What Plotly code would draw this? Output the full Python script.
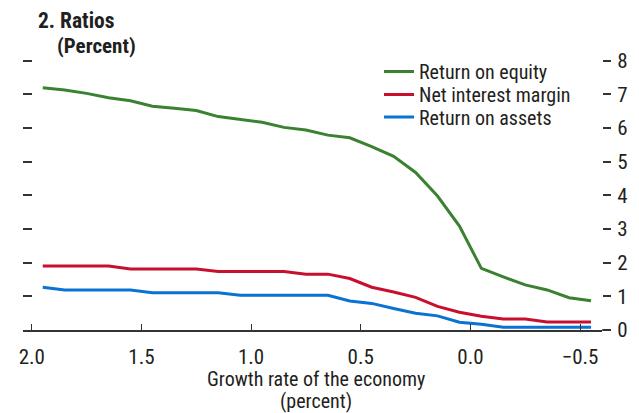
import plotly.graph_objects as go

# Data
growth = [1.95, 1.85, 1.75, 1.65, 1.55, 1.45, 1.35, 1.25, 1.15, 1.05, 0.95, 0.85, 0.75,
          0.65, 0.55, 0.45, 0.35, 0.25, 0.15, 0.05, -0.05, -0.15, -0.25, -0.35, -0.45, -0.55]
return_on_equity = [7.20, 7.13, 7.03, 6.90, 6.81, 6.65, 6.59, 6.52, 6.34, 6.26, 6.17, 6.02, 5.94,
                    5.79, 5.71, 5.45, 5.16, 4.68, 3.98, 3.09, 1.83, 1.58, 1.34, 1.19, 0.96, 0.87]
net_interest_margin = [1.90, 1.90, 1.90, 1.90, 1.81, 1.81, 1.81, 1.81, 1.74, 1.74, 1.74, 1.74, 1.66,
                       1.66, 1.53, 1.27, 1.13, 0.97, 0.70, 0.53, 0.41, 0.33, 0.33, 0.24, 0.24, 0.24]
return_on_assets = [1.27, 1.19, 1.19, 1.19, 1.19, 1.11, 1.11, 1.11, 1.11, 1.03, 1.03, 1.03, 1.03,
                    1.03, 0.86, 0.79, 0.64, 0.50, 0.42, 0.23, 0.17, 0.08, 0.08, 0.08, 0.08, 0.08]
x_ticks = [2.0, 1.5, 1.0, 0.5, 0.0, -0.5]
x_tick_labels = ["2.0", "1.5", "1.0", "0.5", "0.0", "\u22120.5"]
y_ticks = [0, 1, 2, 3, 4, 5, 6, 7, 8]

FONT = "Liberation Sans Narrow, Arial Narrow, Roboto Condensed, Liberation Sans, sans-serif"
TXT = "#231f20"
OFF = 8  # page body margin around the figure
W, H = 639 - OFF, 413 - OFF
PL, PR, PT, PB = 23, 602, 54, 330  # plot box in page pixels
L, R, T, B = PL - OFF, W - (PR - OFF), PT - OFF, H - (PB - OFF)
pw, ph = PR - PL, PB - PT

def px_x(p):
    return (p - PL) / pw

def px_y(p):
    return (PB - p) / ph

series = [
    ("Return on equity", return_on_equity, "#3a8131", "legend", 71.5),
    ("Net interest margin", net_interest_margin, "#c8102e", "legend2", 94.5),
    ("Return on assets", return_on_assets, "#0a72d2", "legend3", 117),
]

fig = go.Figure()
legends = {}
for name, vals, col, lg, ypix in series:
    fig.add_trace(go.Scatter(x=growth, y=vals, mode="lines", name=name, legend=lg,
                             line=dict(color=col, width=3), yaxis="y"))
    legends[lg] = dict(x=px_x(379), y=px_y(ypix), xanchor="left", yanchor="middle",
                       font=dict(size=20, color=TXT), bgcolor="rgba(0,0,0,0)",
                       itemwidth=30)

fig.update_layout(
    width=W, height=H,
    margin=dict(l=L, r=R, t=T, b=B, autoexpand=False),
    paper_bgcolor="white", plot_bgcolor="white",
    font=dict(family=FONT, size=20, color=TXT),
    showlegend=True,
    xaxis=dict(range=[2.04, -0.60], tickvals=x_ticks, ticktext=x_tick_labels,
               ticks="inside", ticklen=6, tickcolor="#333", tickwidth=1,
               showline=True, linecolor="#333", linewidth=1.5,
               showgrid=False, zeroline=False, ticklabelstandoff=7, automargin=False,
               tickfont=dict(size=21, color=TXT)),
    yaxis=dict(range=[0, 8.2], side="right", tickvals=y_ticks,
               ticks="outside", ticklen=8, tickcolor="#333", tickwidth=1.5,
               showline=False, showgrid=False, zeroline=False, automargin=False,
               ticklabelstandoff=2, tickfont=dict(size=21, color=TXT)),
    yaxis2=dict(range=[0, 8.2], overlaying="y", side="left", tickvals=y_ticks,
                ticks="inside", ticklen=9, tickcolor="#333", tickwidth=1.5, automargin=False,
                showticklabels=False, showline=False, showgrid=False, zeroline=False),
    annotations=[
        dict(text="<b>2. Ratios</b>", xref="paper", yref="paper", x=px_x(36), y=px_y(21),
             xanchor="left", yanchor="middle", showarrow=False,
             font=dict(size=21.5, color=TXT)),
        dict(text="<b>(Percent)</b>", xref="paper", yref="paper", x=px_x(55), y=px_y(46),
             xanchor="left", yanchor="middle", showarrow=False,
             font=dict(size=21, color=TXT)),
        dict(text="Growth rate of the economy", xref="paper", yref="paper",
             x=px_x(316), y=px_y(378.5), xanchor="center", yanchor="middle", showarrow=False,
             font=dict(size=20, color=TXT)),
        dict(text="(percent)", xref="paper", yref="paper",
             x=px_x(316), y=px_y(401), xanchor="center", yanchor="middle", showarrow=False,
             font=dict(size=20, color=TXT)),
    ],
    shapes=[dict(type="line", xref="paper", yref="paper", x0=1, x1=1 + 6 / pw, y0=0, y1=0,
                 line=dict(color="#333", width=1.5))],
    **legends,
)
# invisible trace so the left-side tick marks are drawn
fig.add_trace(go.Scatter(x=[None], y=[None], yaxis="y2", showlegend=False, hoverinfo="skip"))

fig.write_html("out.html")
